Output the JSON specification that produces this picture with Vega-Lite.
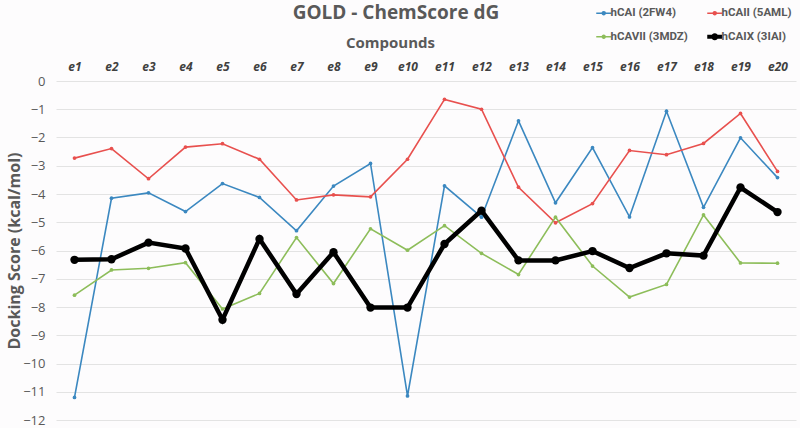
{
  "$schema": "https://vega.github.io/schema/vega-lite/v6.json",
  "width": 740,
  "height": 339,
  "autosize": "none",
  "padding": {"left": 56, "top": 81, "right": 4, "bottom": 8},
  "background": "#fdfcfd",
  "config": {"view": {"stroke": null}, "font": "Open Sans"},
  "title": {
    "text": "GOLD - ChemScore dG",
    "fontSize": 19,
    "fontWeight": "bold",
    "color": "#595959",
    "font": "Open Sans",
    "frame": "group",
    "anchor": "middle",
    "dx": -30,
    "offset": -16
  },
  "data": {
    "values": [
      {"c": "e1", "s": "hCAI (2FW4)", "v": -11.2},
      {"c": "e2", "s": "hCAI (2FW4)", "v": -4.15},
      {"c": "e3", "s": "hCAI (2FW4)", "v": -3.96},
      {"c": "e4", "s": "hCAI (2FW4)", "v": -4.62},
      {"c": "e5", "s": "hCAI (2FW4)", "v": -3.63},
      {"c": "e6", "s": "hCAI (2FW4)", "v": -4.12},
      {"c": "e7", "s": "hCAI (2FW4)", "v": -5.3},
      {"c": "e8", "s": "hCAI (2FW4)", "v": -3.72},
      {"c": "e9", "s": "hCAI (2FW4)", "v": -2.92},
      {"c": "e10", "s": "hCAI (2FW4)", "v": -11.15},
      {"c": "e11", "s": "hCAI (2FW4)", "v": -3.71},
      {"c": "e12", "s": "hCAI (2FW4)", "v": -4.82},
      {"c": "e13", "s": "hCAI (2FW4)", "v": -1.41},
      {"c": "e14", "s": "hCAI (2FW4)", "v": -4.31},
      {"c": "e15", "s": "hCAI (2FW4)", "v": -2.36},
      {"c": "e16", "s": "hCAI (2FW4)", "v": -4.81},
      {"c": "e17", "s": "hCAI (2FW4)", "v": -1.07},
      {"c": "e18", "s": "hCAI (2FW4)", "v": -4.47},
      {"c": "e19", "s": "hCAI (2FW4)", "v": -2.01},
      {"c": "e20", "s": "hCAI (2FW4)", "v": -3.42},
      {"c": "e1", "s": "hCAII (5AML)", "v": -2.73},
      {"c": "e2", "s": "hCAII (5AML)", "v": -2.39},
      {"c": "e3", "s": "hCAII (5AML)", "v": -3.46},
      {"c": "e4", "s": "hCAII (5AML)", "v": -2.34},
      {"c": "e5", "s": "hCAII (5AML)", "v": -2.22},
      {"c": "e6", "s": "hCAII (5AML)", "v": -2.77},
      {"c": "e7", "s": "hCAII (5AML)", "v": -4.21},
      {"c": "e8", "s": "hCAII (5AML)", "v": -4.03},
      {"c": "e9", "s": "hCAII (5AML)", "v": -4.1},
      {"c": "e10", "s": "hCAII (5AML)", "v": -2.77},
      {"c": "e11", "s": "hCAII (5AML)", "v": -0.65},
      {"c": "e12", "s": "hCAII (5AML)", "v": -1.0},
      {"c": "e13", "s": "hCAII (5AML)", "v": -3.76},
      {"c": "e14", "s": "hCAII (5AML)", "v": -5.02},
      {"c": "e15", "s": "hCAII (5AML)", "v": -4.34},
      {"c": "e16", "s": "hCAII (5AML)", "v": -2.46},
      {"c": "e17", "s": "hCAII (5AML)", "v": -2.61},
      {"c": "e18", "s": "hCAII (5AML)", "v": -2.21},
      {"c": "e19", "s": "hCAII (5AML)", "v": -1.15},
      {"c": "e20", "s": "hCAII (5AML)", "v": -3.2},
      {"c": "e1", "s": "hCAVII (3MDZ)", "v": -7.58},
      {"c": "e2", "s": "hCAVII (3MDZ)", "v": -6.69},
      {"c": "e3", "s": "hCAVII (3MDZ)", "v": -6.63},
      {"c": "e4", "s": "hCAVII (3MDZ)", "v": -6.43},
      {"c": "e5", "s": "hCAVII (3MDZ)", "v": -8.07},
      {"c": "e6", "s": "hCAVII (3MDZ)", "v": -7.52},
      {"c": "e7", "s": "hCAVII (3MDZ)", "v": -5.54},
      {"c": "e8", "s": "hCAVII (3MDZ)", "v": -7.17},
      {"c": "e9", "s": "hCAVII (3MDZ)", "v": -5.23},
      {"c": "e10", "s": "hCAVII (3MDZ)", "v": -5.99},
      {"c": "e11", "s": "hCAVII (3MDZ)", "v": -5.12},
      {"c": "e12", "s": "hCAVII (3MDZ)", "v": -6.1},
      {"c": "e13", "s": "hCAVII (3MDZ)", "v": -6.85},
      {"c": "e14", "s": "hCAVII (3MDZ)", "v": -4.82},
      {"c": "e15", "s": "hCAVII (3MDZ)", "v": -6.55},
      {"c": "e16", "s": "hCAVII (3MDZ)", "v": -7.65},
      {"c": "e17", "s": "hCAVII (3MDZ)", "v": -7.2},
      {"c": "e18", "s": "hCAVII (3MDZ)", "v": -4.74},
      {"c": "e19", "s": "hCAVII (3MDZ)", "v": -6.44},
      {"c": "e20", "s": "hCAVII (3MDZ)", "v": -6.45},
      {"c": "e1", "s": "hCAIX (3IAI)", "v": -6.33},
      {"c": "e2", "s": "hCAIX (3IAI)", "v": -6.31},
      {"c": "e3", "s": "hCAIX (3IAI)", "v": -5.72},
      {"c": "e4", "s": "hCAIX (3IAI)", "v": -5.93},
      {"c": "e5", "s": "hCAIX (3IAI)", "v": -8.45},
      {"c": "e6", "s": "hCAIX (3IAI)", "v": -5.59},
      {"c": "e7", "s": "hCAIX (3IAI)", "v": -7.54},
      {"c": "e8", "s": "hCAIX (3IAI)", "v": -6.06},
      {"c": "e9", "s": "hCAIX (3IAI)", "v": -8.02},
      {"c": "e10", "s": "hCAIX (3IAI)", "v": -8.02},
      {"c": "e11", "s": "hCAIX (3IAI)", "v": -5.77},
      {"c": "e12", "s": "hCAIX (3IAI)", "v": -4.59},
      {"c": "e13", "s": "hCAIX (3IAI)", "v": -6.35},
      {"c": "e14", "s": "hCAIX (3IAI)", "v": -6.35},
      {"c": "e15", "s": "hCAIX (3IAI)", "v": -6.02},
      {"c": "e16", "s": "hCAIX (3IAI)", "v": -6.62},
      {"c": "e17", "s": "hCAIX (3IAI)", "v": -6.1},
      {"c": "e18", "s": "hCAIX (3IAI)", "v": -6.18},
      {"c": "e19", "s": "hCAIX (3IAI)", "v": -3.77},
      {"c": "e20", "s": "hCAIX (3IAI)", "v": -4.64}
    ]
  },
  "encoding": {
    "x": {
      "field": "c",
      "type": "ordinal",
      "sort": null,
      "scale": {"type": "point", "padding": 0.5},
      "axis": {
        "orient": "top",
        "title": "Compounds",
        "titleFontSize": 15,
        "titleFontWeight": "bold",
        "titleColor": "#595959",
        "titleX": 334,
        "titlePadding": 10,
        "labelAngle": 0,
        "labelFontSize": 12,
        "labelFontWeight": "bold",
        "labelFontStyle": "italic",
        "labelColor": "#404040",
        "labelPadding": 8,
        "domain": false,
        "ticks": false,
        "grid": false
      }
    },
    "y": {
      "field": "v",
      "type": "quantitative",
      "scale": {"domain": [-12, 0], "nice": false, "zero": false},
      "axis": {
        "title": "Docking Score (kcal/mol)",
        "titleFontSize": 16,
        "titleFontWeight": "bold",
        "titleColor": "#595959",
        "titlePadding": 0,
        "values": [0, -1, -2, -3, -4, -5, -6, -7, -8, -9, -10, -11, -12],
        "labelFontSize": 13,
        "labelColor": "#595959",
        "labelPadding": 11,
        "domain": false,
        "ticks": false,
        "gridColor": "#e3e3e3",
        "gridWidth": 1.2
      }
    },
    "color": {
      "field": "s",
      "type": "nominal",
      "sort": ["hCAI (2FW4)", "hCAII (5AML)", "hCAVII (3MDZ)", "hCAIX (3IAI)"],
      "scale": {
        "domain": ["hCAI (2FW4)", "hCAII (5AML)", "hCAVII (3MDZ)", "hCAIX (3IAI)"],
        "range": ["#3b88c0", "#e8504e", "#8dbd5a", "#000000"]
      },
      "legend": {
        "orient": "none",
        "legendX": 542,
        "legendY": -74,
        "direction": "horizontal",
        "columns": 2,
        "title": null,
        "labelFont": "Roboto",
        "labelFontSize": 11.5,
        "labelFontWeight": "bold",
        "labelColor": "#595959",
        "symbolType": "M-1,0L1,0M-0.2,0A0.2,0.2 0 1,1 0.2,0A0.2,0.2 0 1,1 -0.2,0",
        "symbolSize": 225,
        "symbolStrokeWidth": 1.5,
        "symbolOffset": 0,
        "labelOffset": 1,
        "columnPadding": 11,
        "rowPadding": 8,
        "encode": {
          "symbols": {
            "update": {
              "strokeWidth": {"signal": "datum.value === 'hCAIX (3IAI)' ? 4 : 1.5"}
            }
          }
        }
      }
    }
  },
  "layer": [
    {
      "mark": {"type": "line", "interpolate": "linear"},
      "encoding": {
        "strokeWidth": {
          "condition": {"test": "datum.s === 'hCAIX (3IAI)'", "value": 4.5},
          "value": 1.6
        }
      }
    },
    {
      "mark": {"type": "point", "filled": true, "opacity": 1},
      "encoding": {
        "size": {
          "condition": {"test": "datum.s === 'hCAIX (3IAI)'", "value": 70},
          "value": 14
        }
      }
    }
  ]
}
